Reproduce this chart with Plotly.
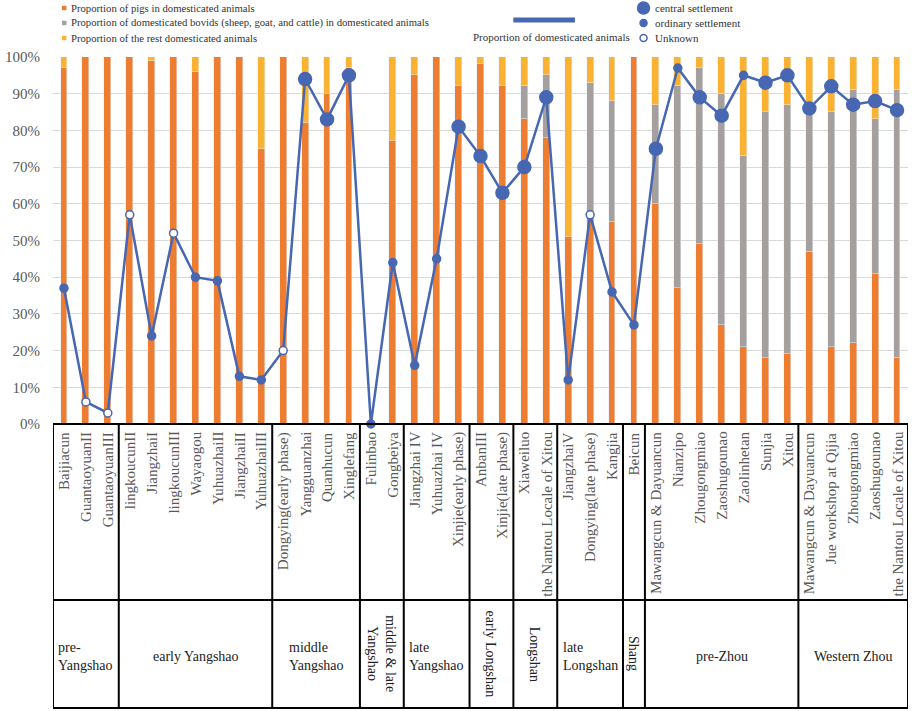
import plotly.graph_objects as go

# ---------------- data ----------------
sites = ["Baijiacun", "GuantaoyuanII", "GuantaoyuanIII",
         "lingkoucunII", "JiangzhaiI", "lingkoucunIII", "Wayaogou", "YuhuazhaiII", "JiangzhaiII", "YuhuazhaiIII",
         "Dongying(early phase)", "Yangguanzhai", "Quanhucun", "Xinglefang",
         "Fulinbao", "Gongbeiya",
         "Jiangzhai IV", "Yuhuazhai IV", "Xinjie(early phase)",
         "AnbanIII", "Xinjie(late phase)",
         "Xiaweiluo", "the Nantou Locale of Xitou",
         "JiangzhaiV", "Dongying(late phase)", "Kangjia",
         "Beicun",
         "Mawangcun & Dayuancun", "Nianzipo", "Zhougongmiao", "Zaoshugounao", "Zaolinhetan", "Sunjia", "Xitou",
         "Mawangcun & Dayuancun", "Jue workshop at Qijia", "Zhougongmiao", "Zaoshugounao", "the Nantou Locale of Xitou"]

pigs = [0.97, 1.00, 1.00,
        1.00, 0.99, 1.00, 0.96, 1.00, 1.00, 0.75,
        1.00, 0.82, 0.90, 0.97,
        0.00, 0.77,
        0.95, 1.00, 0.92,
        0.98, 0.92,
        0.83, 0.78,
        0.51, 0.56, 0.55,
        1.00,
        0.60, 0.37, 0.49, 0.27, 0.21, 0.18, 0.19,
        0.47, 0.21, 0.22, 0.41, 0.18]

bovids = [0.00, 0.00, 0.00,
          0.00, 0.00, 0.00, 0.00, 0.00, 0.00, 0.00,
          0.00, 0.00, 0.00, 0.00,
          0.00, 0.00,
          0.00, 0.00, 0.00,
          0.00, 0.00,
          0.09, 0.17,
          0.00, 0.37, 0.33,
          0.00,
          0.27, 0.55, 0.48, 0.63, 0.52, 0.67, 0.68,
          0.38, 0.64, 0.69, 0.42, 0.73]

rest = [0.03, 0.00, 0.00,
        0.00, 0.01, 0.00, 0.04, 0.00, 0.00, 0.25,
        0.00, 0.18, 0.10, 0.03,
        0.00, 0.23,
        0.05, 0.00, 0.08,
        0.02, 0.08,
        0.08, 0.05,
        0.49, 0.07, 0.12,
        0.00,
        0.13, 0.08, 0.03, 0.10, 0.27, 0.15, 0.13,
        0.15, 0.15, 0.09, 0.17, 0.09]

domesticated = [0.37, 0.06, 0.03,
                0.57, 0.24, 0.52, 0.40, 0.39, 0.13, 0.12,
                0.20, 0.94, 0.83, 0.95,
                0.00, 0.44,
                0.16, 0.45, 0.81,
                0.73, 0.63,
                0.70, 0.89,
                0.12, 0.57, 0.36,
                0.27,
                0.75, 0.97, 0.89, 0.84, 0.95, 0.93, 0.95,
                0.86, 0.92, 0.87, 0.88, 0.855]

# C = central settlement, O = ordinary settlement, U = unknown
settlement = ["O", "U", "U",
              "U", "O", "U", "O", "O", "O", "O",
              "U", "C", "C", "C",
              "O", "O",
              "O", "O", "C",
              "C", "C",
              "C", "C",
              "O", "U", "O",
              "O",
              "C", "O", "C", "C", "O", "C", "C",
              "C", "C", "C", "C", "C"]

periods = ["pre-<br>Yangshao", "early Yangshao", "middle<br>Yangshao", "middle & late<br>Yangshao",
           "late<br>Yangshao", "early Longshan", "Longshan", "late<br>Longshan", "Shang",
           "pre-Zhou", "Western Zhou"]
period_counts = [3, 7, 4, 2, 3, 2, 2, 3, 1, 7, 5]
period_rotated = [False, False, False, True, False, True, True, False, True, False, False]
period_align = ["left", "center", "left", "center", "left", "center", "center", "left", "center", "center", "center"]

legend_labels = ["Proportion of pigs in domesticated animals",
                 "Proportion of domesticated bovids (sheep, goat, and cattle) in domesticated animals",
                 "Proportion of the rest domesticated animals"]
line_label = "Proportion of domesticated animals"
marker_labels = ["central settlement", "ordinary settlement", "Unknown"]

# ---------------- style ----------------
C_PIG = "#ED7D31"
C_BOV = "#A5A09D"
C_REST = "#FBB232"
C_LINE = "#4767B2"
SERIF = "Liberation Serif, Times New Roman, serif"

W, H = 913, 711
L, R, T, B = 48, 5, 57, 287
PW, PH = W - L - R, H - T - B
Y0 = H - B  # pixel of 0%

def ypx(p):
    return (Y0 - p) / PH

def xpx(p):
    return (p - L) / PW

x = list(range(len(sites)))
n = len(sites)

fig = go.Figure()
bw = 0.31
fig.add_bar(x=x, y=pigs, marker_color=C_PIG, width=bw, name=legend_labels[0], showlegend=False)
fig.add_bar(x=x, y=bovids, marker_color=C_BOV, width=bw, name=legend_labels[1], showlegend=False)
fig.add_bar(x=x, y=rest, marker_color=C_REST, width=bw, name=legend_labels[2], showlegend=False)

size_map = {"C": 13, "O": 8, "U": 8}
fill_map = {"C": C_LINE, "O": C_LINE, "U": "white"}
fig.add_scatter(x=x, y=domesticated, mode="lines+markers",
                line=dict(color=C_LINE, width=2.5),
                marker=dict(size=[size_map[s] for s in settlement],
                            color=[fill_map[s] for s in settlement],
                            opacity=1,
                            line=dict(color=C_LINE, width=1.5)),
                showlegend=False, cliponaxis=False)

shapes = []
annotations = []

# table
y_top = 0.0
y_mid = ypx(600)
y_bot = ypx(708)
lw = 2
shapes.append(dict(type="rect", xref="x", yref="paper", x0=-0.5, x1=n - 0.5, y0=y_bot, y1=y_top,
                   line=dict(color="black", width=lw)))
shapes.append(dict(type="line", xref="x", yref="paper", x0=-0.5, x1=n - 0.5, y0=y_mid, y1=y_mid,
                   line=dict(color="black", width=lw)))
start = 0
for i, (name, cnt) in enumerate(zip(periods, period_counts)):
    end = start + cnt
    if i < len(periods) - 1:
        shapes.append(dict(type="line", xref="x", yref="paper", x0=end - 0.5, x1=end - 0.5,
                           y0=y_bot, y1=y_top, line=dict(color="black", width=lw)))
    cx = (start + end - 1) / 2
    if period_rotated[i]:
        annotations.append(dict(x=cx, y=ypx(654), xref="x", yref="paper", text=name, showarrow=False,
                                textangle=90, align="center", xanchor="center", yanchor="middle",
                                font=dict(family=SERIF, size=14, color="#222")))
    else:
        annotations.append(dict(x=cx, y=ypx(656), xref="x", yref="paper", text=name, showarrow=False,
                                align=period_align[i], xanchor="center", yanchor="middle",
                                font=dict(family=SERIF, size=14, color="#222")))
    start = end

for i, s in enumerate(sites):
    annotations.append(dict(x=i, y=ypx(430), xref="x", yref="paper", text=s, showarrow=False,
                            textangle=-90, xanchor="center", yanchor="top",
                            font=dict(family=SERIF, size=15, color="#595959")))

# legend (top)
leg_y = [8, 23, 38]
for lab, col, yy in zip(legend_labels, [C_PIG, C_BOV, C_REST], leg_y):
    shapes.append(dict(type="rect", xref="paper", yref="paper",
                       x0=xpx(57), x1=xpx(61.5), y0=ypx(yy + 2.2), y1=ypx(yy - 2.2),
                       fillcolor=col, line=dict(width=0)))
    annotations.append(dict(x=xpx(64), y=ypx(yy), xref="paper", yref="paper", text=lab, showarrow=False,
                            xanchor="left", yanchor="middle",
                            font=dict(family=SERIF, size=10.7, color="#333")))

shapes.append(dict(type="line", xref="paper", yref="paper", x0=xpx(511), x1=xpx(573),
                   y0=ypx(20), y1=ypx(20), line=dict(color=C_LINE, width=5)))
annotations.append(dict(x=xpx(549), y=ypx(37), xref="paper", yref="paper", text=line_label,
                        showarrow=False, xanchor="center", yanchor="middle",
                        font=dict(family=SERIF, size=11, color="#333")))

mk = [("C", 8), ("O", 23), ("U", 38)]
for (code, yy), lab in zip(mk, marker_labels):
    d = 12 if code == "C" else 7
    shapes.append(dict(type="circle", xref="paper", yref="paper",
                       xsizemode="pixel", ysizemode="pixel",
                       xanchor=xpx(642), yanchor=ypx(yy),
                       x0=-d / 2, x1=d / 2, y0=-d / 2, y1=d / 2,
                       fillcolor=fill_map[code], line=dict(color=C_LINE, width=1.5)))
    annotations.append(dict(x=xpx(652), y=ypx(yy), xref="paper", yref="paper", text=lab, showarrow=False,
                            xanchor="left", yanchor="middle",
                            font=dict(family=SERIF, size=11, color="#333")))

fig.update_layout(
    width=W, height=H,
    margin=dict(l=L, r=R, t=T, b=B),
    paper_bgcolor="white", plot_bgcolor="white",
    barmode="stack", bargap=0,
    showlegend=False,
    xaxis=dict(range=[-0.5, n - 0.5], showticklabels=False, showgrid=False, zeroline=False,
               showline=False, fixedrange=True),
    yaxis=dict(range=[0, 1], dtick=0.1, tickformat=".0%", showgrid=True, gridcolor="#D9D9D9",
               gridwidth=1, zeroline=False, showline=False, ticks="", ticklabelstandoff=12,
               tickfont=dict(family=SERIF, size=15, color="#595959"), fixedrange=True),
    shapes=shapes, annotations=annotations,
)

fig.write_html("out.html",
               config={"displayModeBar": False},
               post_script="document.body.style.margin='0';document.body.style.padding='0';"
                           "document.body.style.overflow='hidden';")
